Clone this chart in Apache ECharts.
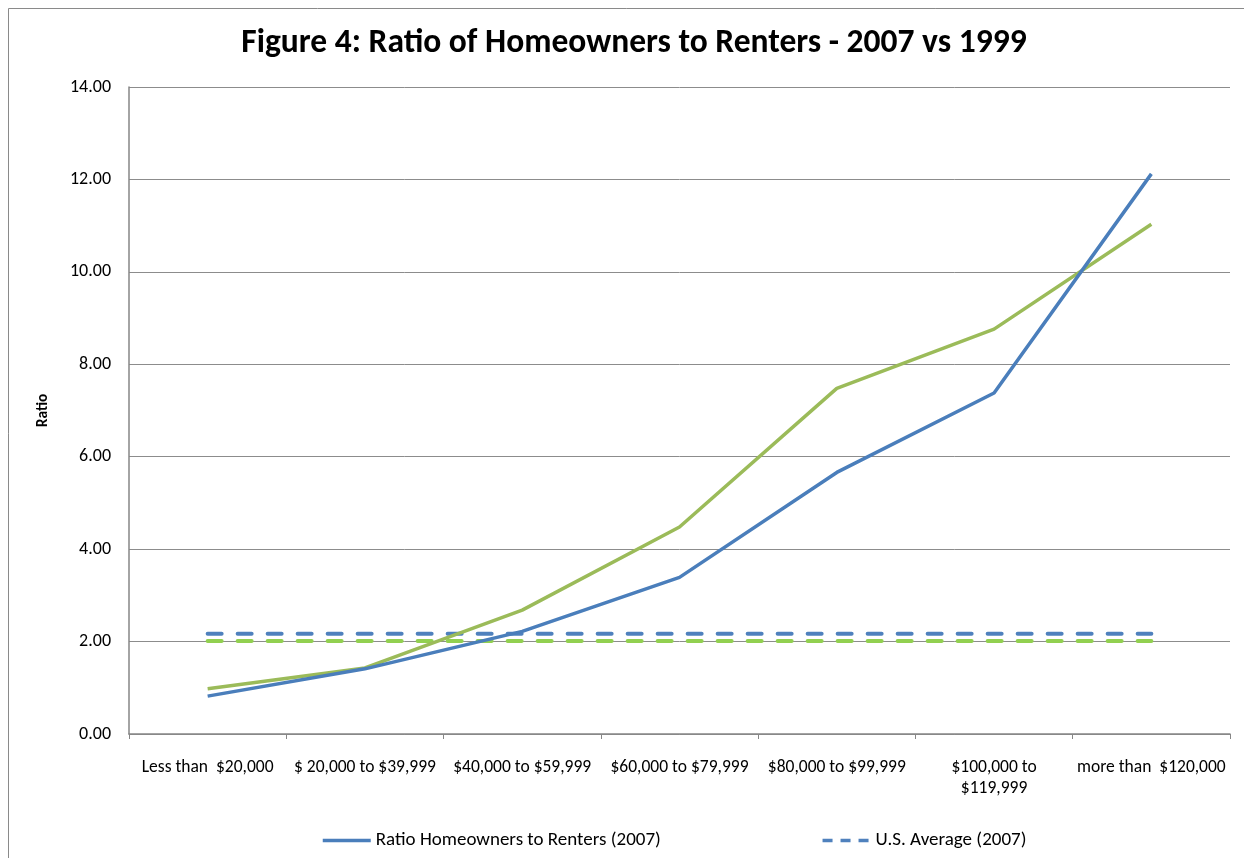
<!DOCTYPE html>
<html>
<head>
<meta charset="utf-8">
<script src="https://cdn.jsdelivr.net/npm/echarts@6/dist/echarts.min.js"></script>
<style>html,body{margin:0;padding:0;background:#fff}#c{width:1244px;height:858px}</style>
</head>
<body>
<div id="c"></div>
<script>
var categories = ["Less than  $20,000", "$ 20,000 to $39,999", "$40,000 to $59,999", "$60,000 to $79,999", "$80,000 to $99,999", "$100,000 to\n$119,999", "more than  $120,000"];
var ratio2007 = [0.82, 1.41, 2.22, 3.39, 5.66, 7.38, 12.12];
var ratio1999 = [0.98, 1.43, 2.68, 4.48, 7.48, 8.76, 11.03];
var usAvg2007 = [2.17, 2.17, 2.17, 2.17, 2.17, 2.17, 2.17];
var usAvg1999 = [2.01, 2.01, 2.01, 2.01, 2.01, 2.01, 2.01];
var yTicks = {min: 0, max: 14, interval: 2};

var FONT = "Carlito, Lato, 'Liberation Sans', sans-serif";
var chart = echarts.init(document.getElementById('c'), null, {renderer: 'canvas'});
chart.setOption({
  animation: false,
  backgroundColor: '#fff',
  graphic: [{
    type: 'rect', shape: {x: 8.5, y: 8.5, width: 1260, height: 900},
    style: {fill: 'none', stroke: '#8a8a8a', lineWidth: 1}, silent: true, z: -1
  }],
  title: {
    text: 'Figure 4: Ratio of Homeowners to Renters - 2007 vs 1999',
    left: 629, top: 22, textAlign: 'center',
    textStyle: {fontFamily: FONT, fontSize: 33.5, fontWeight: 'bold', color: '#000'}
  },
  legend: {
    left: 316, top: 826, itemGap: 160, itemWidth: 48, itemHeight: 14,
    itemStyle: {opacity: 0},
    lineStyle: {width: 3.5},
    data: [
      {name: 'Ratio Homeowners to Renters (2007)'},
      {name: 'U.S. Average (2007)', lineStyle: {width: 3.5, type: [10, 8], cap: 'butt'}}
    ],
    textStyle: {fontFamily: FONT, fontSize: 19, color: '#000'}
  },
  grid: {left: 129, right: 14, top: 87, bottom: 124},
  xAxis: {
    type: 'category', data: categories, boundaryGap: true,
    axisLine: {lineStyle: {color: '#868686', width: 1.5}},
    axisTick: {show: true, length: 5, lineStyle: {color: '#868686'}},
    axisLabel: {fontFamily: FONT, fontSize: 17.5, color: '#000', margin: 23, interval: 0, lineHeight: 21}
  },
  yAxis: {
    type: 'value', min: yTicks.min, max: yTicks.max, interval: yTicks.interval,
    name: 'Ratio', nameLocation: 'middle', nameGap: 78, nameRotate: 90,
    nameTextStyle: {fontFamily: FONT, fontSize: 15.5, fontWeight: 'bold', color: '#000'},
    axisLine: {show: true, lineStyle: {color: '#868686', width: 1.5}},
    axisTick: {show: false},
    splitLine: {lineStyle: {color: '#8c8c8c', width: 1}},
    axisLabel: {fontFamily: FONT, fontSize: 18, color: '#000', margin: 18,
      formatter: function (v) { return v.toFixed(2); }}
  },
  series: [
    {name: 'Ratio Homeowners to Renters (2007)', type: 'line', data: ratio2007, symbol: 'none',
      color: '#4a7ebb', lineStyle: {color: '#4a7ebb', width: 3.5}, z: 4},
    {name: 'Ratio Homeowners to Renters (1999)', type: 'line', data: ratio1999, symbol: 'none',
      color: '#9bbb59', lineStyle: {color: '#9bbb59', width: 3.5}, z: 3},
    {name: 'U.S. Average (2007)', type: 'line', data: usAvg2007, symbol: 'none',
      color: '#4f81bd', lineStyle: {color: '#4f81bd', width: 4, type: [14, 16], cap: 'round'}, z: 2},
    {name: 'U.S. Average (1999)', type: 'line', data: usAvg1999, symbol: 'none',
      color: '#92d050', lineStyle: {color: '#92d050', width: 4, type: [14, 16], cap: 'round'}, z: 2}
  ]
});
</script>
</body>
</html>
